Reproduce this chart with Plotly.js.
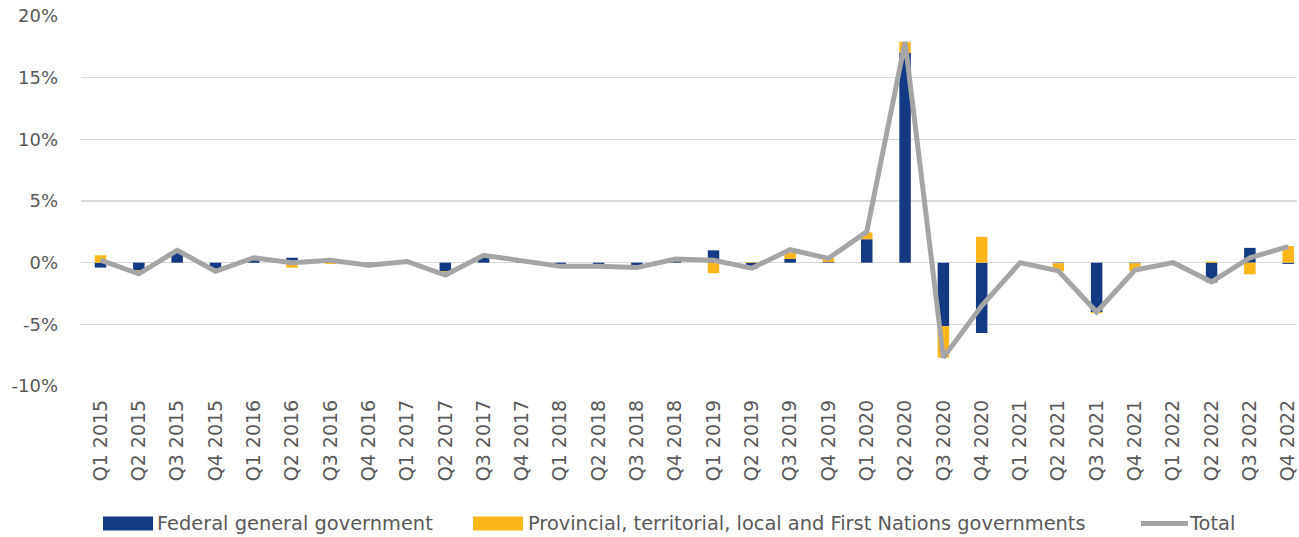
<!DOCTYPE html>
<html>
<head>
<meta charset="utf-8">
<script src="https://cdn.plot.ly/plotly-3.0.1.min.js"></script>
<style>
  html, body { margin: 0; padding: 0; background: #ffffff; }
  #chart { width: 1299px; height: 537px; }
</style>
</head>
<body>
<div id="chart"></div>
<script>
// Quarterly contribution to growth, by level of government (percent)
const quarters = [
  "Q1 2015", "Q2 2015", "Q3 2015", "Q4 2015",
  "Q1 2016", "Q2 2016", "Q3 2016", "Q4 2016",
  "Q1 2017", "Q2 2017", "Q3 2017", "Q4 2017",
  "Q1 2018", "Q2 2018", "Q3 2018", "Q4 2018",
  "Q1 2019", "Q2 2019", "Q3 2019", "Q4 2019",
  "Q1 2020", "Q2 2020", "Q3 2020", "Q4 2020",
  "Q1 2021", "Q2 2021", "Q3 2021", "Q4 2021",
  "Q1 2022", "Q2 2022", "Q3 2022", "Q4 2022"
];

const federal = [
  -0.4, -0.6, 0.8, -0.5,
  0.2, 0.4, 0.3, -0.1,
  0.05, -0.7, 0.5, 0.1,
  -0.2, -0.2, -0.3, 0.15,
  1.0, -0.5, 0.3, 0.05,
  1.9, 17.0, -5.15, -5.7,
  0.0, -0.05, -4.0, -0.05,
  0.0, -1.6, 1.2, -0.1
];

const provincial = [
  0.6, -0.2, 0.1, -0.1,
  0.2, -0.4, -0.1, -0.1,
  0.05, -0.3, 0.1, 0.0,
  -0.1, -0.05, -0.1, 0.15,
  -0.85, 0.05, 0.5, 0.3,
  0.55, 0.9, -2.55, 2.1,
  0.0, -0.65, -0.1, -0.6,
  0.0, 0.1, -0.95, 1.35
];

const total = [
  0.2, -0.9, 1.0, -0.7,
  0.4, 0.0, 0.2, -0.2,
  0.1, -1.0, 0.6, 0.15,
  -0.3, -0.3, -0.4, 0.3,
  0.2, -0.45, 1.05, 0.35,
  2.5, 17.9, -7.7, -3.5,
  0.0, -0.65, -4.0, -0.6,
  0.0, -1.55, 0.4, 1.3
];

// Value axis ticks and their printed labels (plain hyphen for negatives)
const yTickVals = [-10, -5, 0, 5, 10, 15, 20];
const yTickText = ["-10%", "-5%", "0%", "5%", "10%", "15%", "20%"];

const seriesNames = [
  "Federal general government",
  "Provincial, territorial, local and First Nations governments",
  "Total"
];

const NAVY = "#143A84";
const GOLD = "#FDB71A";
const GREY = "#A5A5A5";
const TEXT = "#595959";
const FONT = "DejaVu Sans, sans-serif";

const W = 1299, H = 537;
const M = { l: 81, r: 2, t: 16, b: 151 };
const plotW = W - M.l - M.r;
const plotH = H - M.t - M.b;
// pixel -> paper helpers for the hand-built legend row
const px = x => (x - M.l) / plotW;
const py = y => (H - M.b - y) / plotH;

const traces = [
  {
    type: "bar", name: seriesNames[0], x: quarters, y: federal,
    marker: { color: NAVY }, width: 0.3, showlegend: false
  },
  {
    type: "bar", name: seriesNames[1], x: quarters, y: provincial,
    marker: { color: GOLD }, width: 0.3, showlegend: false
  },
  {
    type: "scatter", mode: "lines", name: seriesNames[2], x: quarters, y: total,
    line: { color: GREY, width: 5, shape: "linear" }, showlegend: false
  }
];

// Legend row drawn below the category labels
const legendY = 523.5;
const legendItems = [
  { kind: "box", color: NAVY, x0: 103, x1: 153, tx: 155, label: seriesNames[0] },
  { kind: "box", color: GOLD, x0: 473, x1: 523, tx: 526, label: seriesNames[1] },
  { kind: "line", color: GREY, x0: 1141, x1: 1188, tx: 1187, label: seriesNames[2] }
];

const shapes = [];
const annotations = [];
legendItems.forEach(it => {
  if (it.kind === "box") {
    shapes.push({
      type: "rect", xref: "paper", yref: "paper",
      x0: px(it.x0), x1: px(it.x1), y0: py(legendY + 7), y1: py(legendY - 7),
      fillcolor: it.color, line: { width: 0 }
    });
  } else {
    shapes.push({
      type: "line", xref: "paper", yref: "paper",
      x0: px(it.x0), x1: px(it.x1), y0: py(legendY), y1: py(legendY),
      line: { color: it.color, width: 5 }
    });
  }
  annotations.push({
    xref: "paper", yref: "paper", x: px(it.tx), y: py(legendY),
    xanchor: "left", yanchor: "middle", showarrow: false,
    text: it.label, font: { family: FONT, size: 19.4, color: TEXT }
  });
});

const layout = {
  width: W, height: H,
  margin: M,
  paper_bgcolor: "#ffffff",
  plot_bgcolor: "#ffffff",
  barmode: "relative",
  showlegend: false,
  font: { family: FONT, color: TEXT },
  xaxis: {
    type: "category",
    range: [-0.51, 31.23],
    showgrid: false,
    zeroline: false,
    showline: false,
    ticks: "",
    tickangle: -90,
    ticklabelstandoff: 9,
    tickfont: { family: FONT, size: 19, color: TEXT }
  },
  yaxis: {
    range: [-10, 20],
    tickmode: "array",
    tickvals: yTickVals,
    ticktext: yTickText,
    showgrid: true,
    gridcolor: "#D9D9D9",
    gridwidth: 1.5,
    zeroline: true,
    zerolinecolor: "#D9D9D9",
    zerolinewidth: 1.5,
    showline: false,
    ticks: "",
    ticklabelstandoff: 22,
    tickfont: { family: FONT, size: 18, color: TEXT }
  },
  shapes: shapes,
  annotations: annotations
};

Plotly.newPlot("chart", traces, layout, { staticPlot: true, displayModeBar: false });
</script>
</body>
</html>
